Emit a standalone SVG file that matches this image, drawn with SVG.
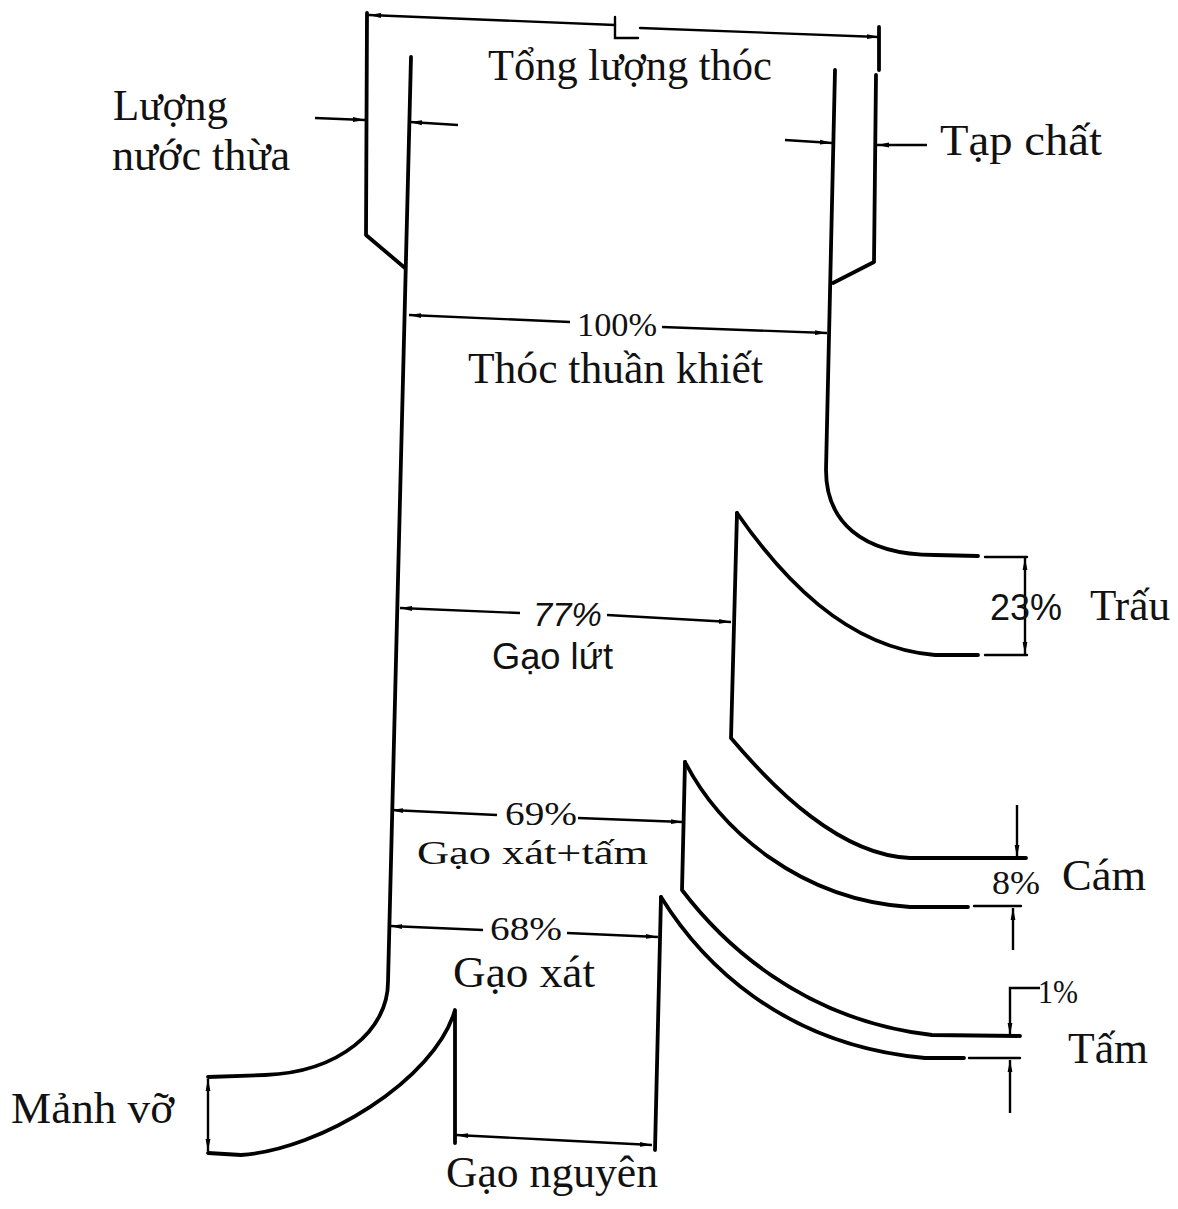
<svg xmlns="http://www.w3.org/2000/svg" width="1178" height="1209" viewBox="0 0 1178 1209">
<style>
.w{fill:none;stroke:#000;stroke-width:3.8;stroke-linejoin:round;stroke-linecap:round}
.d{fill:none;stroke:#000;stroke-width:2.4;stroke-linecap:round}
.a{fill:none;stroke:#000;stroke-width:2.4;marker-end:url(#ah)}
.t{font-family:"Liberation Serif","Times New Roman",serif;font-size:44px;fill:#111}
.p{font-family:"Liberation Serif","Times New Roman",serif;font-size:34px;fill:#111}
.s{font-family:"Liberation Sans",Arial,sans-serif;fill:#111}
</style>
<defs>
<marker id="ah" viewBox="0 0 12 6" refX="12" refY="3" markerWidth="12" markerHeight="6" markerUnits="userSpaceOnUse" orient="auto">
<path d="M0,0.6 L12,3 L0,5.4 z" fill="#000"/>
</marker>
</defs>
<rect width="1178" height="1209" fill="#fff"/>

<g id="flow">
<path class="w" d="M367,13 L366,235 L405,268"/>
<path class="w" d="M411,57 L388,982 C388,1030 340,1072 265,1075 L208,1077"/>
<path class="w" d="M208,1153 L241,1155 C320,1150 435,1080 455,1010 L455,1143"/>
<path class="w" d="M661,897 L655,1150"/>
<path class="w" d="M661,897 C700,960 780,1045 925,1058 L964,1058"/>
<path class="w" d="M685,762 L682,890 C720,940 800,1020 932,1035 L1020,1036"/>
<path class="w" d="M685,762 C720,830 800,900 910,907 L968,907"/>
<path class="w" d="M737,513 L731,738 C775,790 840,855 910,858 L1026,858"/>
<path class="w" d="M737,513 C780,575 845,648 935,655 L978,655"/>
<path class="w" d="M835,70 L826,470 C826,520 860,555 935,555 L978,556"/>
<path class="w" d="M879,27 L879,70"/>
<path class="w" d="M876,75 L874,262 L833,283"/>
</g>

<g id="connectors">
<path class="d" d="M615,25 L369,15" style="marker-end:url(#ah)"/>
<path class="d" d="M615,17 L615,38 L638,38"/>
<path class="d" d="M640,28 L879,37" style="marker-end:url(#ah)"/>
<path class="a" d="M315,118 L365,120"/>
<path class="a" d="M458,125 L410,122"/>
<path class="a" d="M785,140 L832,143"/>
<path class="a" d="M927,145 L877,145"/>
<path class="a" d="M570,322 L409,315"/>
<path class="a" d="M662,327 L827,333"/>
<path class="a" d="M520,613 L400,608"/>
<path class="a" d="M607,615 L731,622"/>
<path class="a" d="M497,815 L391,810"/>
<path class="a" d="M578,818 L683,822"/>
<path class="a" d="M483,930 L390,926"/>
<path class="a" d="M567,933 L658,937"/>
<path class="d" d="M985,557 L1027,557"/>
<path class="d" d="M985,655 L1027,655"/>
<path class="a" d="M1025,606 L1025,558"/>
<path class="a" d="M1025,606 L1025,654"/>
<path class="a" d="M1017,805 L1017,857"/>
<path class="d" d="M974,906 L1021,906"/>
<path class="a" d="M1013,950 L1013,908"/>
<path class="d" d="M969,1058 L1020,1058"/>
<path class="a" d="M1040,988 L1010,988 L1010,1035"/>
<path class="a" d="M1010,1113 L1010,1060"/>
<path class="a" d="M208,1115 L208,1079"/>
<path class="a" d="M208,1115 L208,1151"/>
<path class="a" d="M554,1140 L456,1135"/>
<path class="a" d="M554,1140 L652,1145"/>
</g>

<g id="labels">
<text class="t" x="488" y="80" textLength="284" lengthAdjust="spacingAndGlyphs">Tổng lượng thóc</text>
<text class="t" x="113" y="120" textLength="115" lengthAdjust="spacingAndGlyphs">Lượng</text>
<text class="t" x="112" y="170" textLength="178" lengthAdjust="spacingAndGlyphs">nước thừa</text>
<text class="t" x="940" y="155" textLength="162" lengthAdjust="spacingAndGlyphs">Tạp chất</text>
<text class="p" x="577" y="336" textLength="80" lengthAdjust="spacingAndGlyphs">100%</text>
<text class="t" x="468" y="383" font-size="42" textLength="295" lengthAdjust="spacingAndGlyphs">Thóc thuần khiết</text>
<text class="s" x="533" y="626" font-size="34" font-style="italic" textLength="69" lengthAdjust="spacingAndGlyphs">77%</text>
<text class="s" x="492" y="669" font-size="36" textLength="121" lengthAdjust="spacingAndGlyphs">Gạo lứt</text>
<text class="s" x="990" y="620" font-size="36" textLength="72" lengthAdjust="spacingAndGlyphs">23%</text>
<text class="t" x="1090" y="620" textLength="80" lengthAdjust="spacingAndGlyphs">Trấu</text>
<text class="p" x="505" y="825" font-size="32" textLength="72" lengthAdjust="spacingAndGlyphs">69%</text>
<text class="p" x="417" y="864" font-size="36" textLength="231" lengthAdjust="spacingAndGlyphs">Gạo xát+tấm</text>
<text class="p" x="490" y="940" font-size="32" textLength="72" lengthAdjust="spacingAndGlyphs">68%</text>
<text class="t" x="453" y="987" font-size="40" textLength="142" lengthAdjust="spacingAndGlyphs">Gạo xát</text>
<text class="p" x="992" y="894" textLength="48" lengthAdjust="spacingAndGlyphs">8%</text>
<text class="t" x="1062" y="890" textLength="84" lengthAdjust="spacingAndGlyphs">Cám</text>
<text class="p" x="1038" y="1003" textLength="40" lengthAdjust="spacingAndGlyphs">1%</text>
<text class="t" x="1068" y="1063" textLength="80" lengthAdjust="spacingAndGlyphs">Tấm</text>
<text class="t" x="11" y="1123" textLength="163" lengthAdjust="spacingAndGlyphs">Mảnh vỡ</text>
<text class="t" x="446" y="1187" textLength="212" lengthAdjust="spacingAndGlyphs">Gạo nguyên</text>
</g>
</svg>
